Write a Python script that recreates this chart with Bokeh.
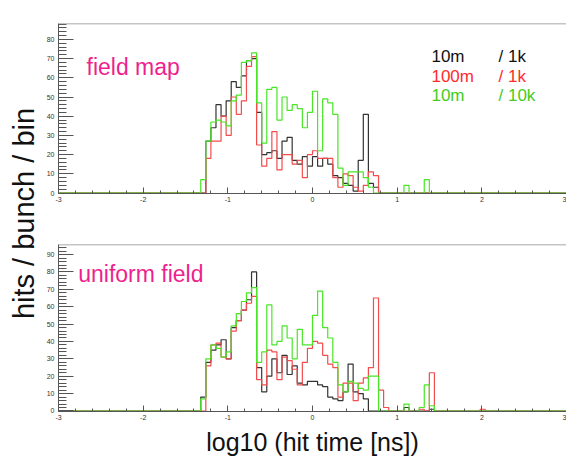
import numpy as np
from math import pi
from bokeh.plotting import figure
from bokeh.layouts import row, column
from bokeh.models import Range1d, Label, Span, SingleIntervalTicker
from bokeh.embed import file_html
from bokeh.resources import INLINE

# ---------------- data ----------------
X_MIN, X_MAX, N_BINS = -3.0, 3.0, 100
FIRST_BIN = 28          # first listed bin, lower edge at x = -1.32

series_names = ["10m   / 1k", "100m  / 1k", "10m   / 10k"]

# panel 1: field map (v06)
top_black = [0, 27, 34, 46, 40, 48, 58, 55, 61, 69, 70, 42, 20, 21, 22, 18, 27, 29, 17, 15,
             19, 14, 19, 14, 18, 15, 9, 8, 5, 4, 1, 17, 41, 5, 3, 0, 0, 0, 0, 0,
             0, 0, 0, 0, 0, 0, 0, 0, 0, 0, 0, 0, 0, 0, 0, 0]
top_red = [0, 18, 27, 27, 40, 30, 50, 41, 48, 66, 71, 25, 14, 18, 32, 12, 20, 20, 15, 17,
           8, 20, 22, 18, 18, 18, 8, 3, 10, 9, 3, 1, 4, 11, 9, 0, 0, 0, 0, 0,
           0, 0, 0, 0, 0, 0, 0, 0, 0, 0, 0, 0, 0, 0, 0, 0]
top_green = [7, 27, 37, 38, 37, 35, 48, 51, 68, 69, 73, 47, 26, 54, 55, 38, 50, 43, 46, 44,
             34, 42, 53, 22, 49, 47, 41, 13, 4, 11, 11, 11, 8, 3, 0, 0, 0, 0, 0, 0,
             4, 0, 0, 0, 7, 0, 0, 0, 0, 0, 0, 0, 0, 0, 0, 0]

# panel 2: uniform field (v02)
bot_black = [8, 28, 35, 38, 41, 30, 48, 52, 58, 64, 80, 25, 11, 20, 30, 22, 32, 21, 26, 16,
             15, 17, 17, 15, 14, 8, 7, 6, 11, 27, 11, 10, 7, 0, 0, 0, 0, 0, 0, 0,
             2, 0, 0, 0, 0, 1, 0, 0, 0, 0, 0, 0, 0, 0, 0, 0]
bot_red = [0, 26, 38, 39, 31, 30, 46, 52, 58, 62, 66, 18, 15, 35, 34, 18, 31, 29, 24, 15,
           28, 36, 40, 39, 32, 27, 25, 8, 16, 16, 6, 16, 19, 25, 65, 12, 2, 0, 0, 0,
           0, 0, 0, 1, 0, 22, 0, 0, 0, 0, 0, 0, 0, 0, 0, 1]
bot_green = [7, 30, 38, 36, 31, 34, 49, 56, 63, 68, 71, 28, 34, 61, 38, 40, 49, 42, 30, 47,
             38, 38, 55, 69, 48, 42, 28, 15, 11, 17, 16, 13, 12, 20, 20, 0, 0, 0, 0, 0,
             4, 0, 0, 2, 15, 3, 0, 0, 0, 0, 0, 0, 0, 0, 0, 0]

x_tick_labels = ["-3", "-2", "-1", "0", "1", "2", "3"]

titles = ["VXDhitEnTime_L01_ILD_l5_v06_loops1000_mxstep10",
          "VXDhitEnTime_L01_ILD_l5_v02_loops1000_mxstep10"]
panel_tags = ["field map", "uniform field"]
x_title = "log10 (hit time [ns])"
y_title = "hits / bunch / bin"

# ---------------- style ----------------
FONT = "Liberation Sans"
COLORS = ["#333333", "#f24c4c", "#48e626"]
TEXT_COLORS = ["#111111", "#ff2a2a", "#44cc22"]
TAG_COLOR = "#ee1f8e"

edges = np.linspace(X_MIN, X_MAX, N_BINS + 1)


def full_counts(vals):
    c = np.zeros(N_BINS)
    c[FIRST_BIN:FIRST_BIN + len(vals)] = vals
    return c


def make_panel(width, height, border_top, border_bottom, ymin, ymax, series, title, tag,
               tag_pos, title_y, legend=False):
    p = figure(width=width, height=height, output_backend="svg", toolbar_location=None,
               x_range=Range1d(X_MIN, X_MAX), y_range=Range1d(ymin, ymax), title=None,
               min_border_left=16, min_border_right=0, min_border_top=border_top,
               min_border_bottom=border_bottom)
    p.grid.visible = False
    p.outline_line_color = None
    p.background_fill_color = "white"
    p.border_fill_color = "white"

    for vals, col in zip(series, COLORS):
        c = full_counts(vals)
        p.step(edges, np.append(c, c[-1]), mode="after", line_color=col, line_width=1.2)

    # frame top line
    p.add_layout(Span(location=ymax, dimension="width", line_color="#8a8a8a", line_width=1.5))

    p.xaxis.ticker = SingleIntervalTicker(interval=1, num_minor_ticks=5)
    p.xaxis.major_label_overrides = {i - 3: s for i, s in enumerate(x_tick_labels)}
    p.yaxis.ticker = SingleIntervalTicker(interval=10, num_minor_ticks=5)
    for ax in (p.xaxis[0], p.yaxis[0]):
        ax.axis_line_color = "#555555"
        ax.major_tick_line_color = "#555555"
        ax.minor_tick_line_color = "#555555"
        ax.major_tick_out = 0
        ax.minor_tick_out = 0
        ax.major_label_text_font = FONT
        ax.major_label_text_font_size = "7px"
        ax.major_label_text_color = "#333333"
        ax.major_label_standoff = 3
    p.xaxis.major_tick_in = 6
    p.xaxis.minor_tick_in = 3
    p.yaxis.major_tick_in = 15
    p.yaxis.minor_tick_in = 8
    p.yaxis.major_label_standoff = 4

    p.add_layout(Label(x=0.01, y=title_y, text=title, text_font=FONT, text_font_size="10px",
                       text_align="center", text_baseline="alphabetic", text_color="#111111"))
    p.add_layout(Label(x=tag_pos[0], y=tag_pos[1], text=tag, text_font=FONT,
                       text_font_size="23px", text_color=TAG_COLOR, text_baseline="alphabetic"))
    if legend:
        ys = [66.4, 56.0, 45.9]
        for name, tc, yy in zip(series_names, TEXT_COLORS, ys):
            left, right = name.split("/")
            p.add_layout(Label(x=1.405, y=yy, text=left.strip(), text_font=FONT,
                               text_font_size="17px", text_color=tc))
            p.add_layout(Label(x=2.197, y=yy, text="/ " + right.strip(), text_font=FONT,
                               text_font_size="17px", text_color=tc))
    return p


top = make_panel(524, 223, 23, 30, -0.26, 88.3,
                 [top_black, top_red, top_green], titles[0], panel_tags[0],
                 (-2.669, 65.4), 93.0, legend=True)
bot = make_panel(524, 235, 21, 45, -0.3, 95.8,
                 [bot_black, bot_red, bot_green], titles[1], panel_tags[1],
                 (-2.767, 79.1), 101.5)
bot.xaxis.axis_label = x_title
bot.xaxis.axis_label_text_font = FONT
bot.xaxis.axis_label_text_font_size = "25px"
bot.xaxis.axis_label_text_font_style = "normal"
bot.xaxis.axis_label_text_color = "#111111"
bot.xaxis.axis_label_standoff = 5

lab = figure(width=42, height=458, output_backend="svg", toolbar_location=None,
             x_range=Range1d(0, 1), y_range=Range1d(0, 1), title=None,
             x_axis_location=None, y_axis_location=None, min_border=0)
lab.grid.visible = False
lab.outline_line_color = None
lab.add_layout(Label(x=0.56, y=0.535, text=y_title, angle=pi / 2, text_font=FONT,
                     text_font_size="29px", text_align="center", text_baseline="middle",
                     text_color="#111111"))

layout = row(lab, column(top, bot))
open("out.html", "w").write(file_html(layout, INLINE))
